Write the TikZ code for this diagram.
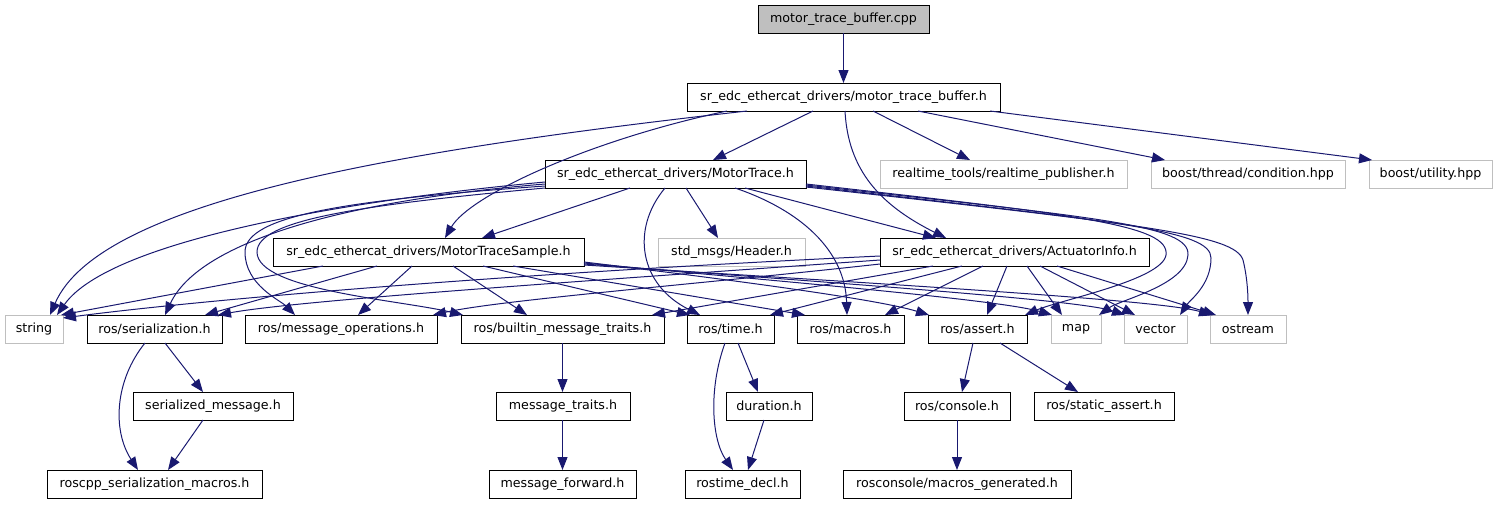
\documentclass[tikz,border=0pt]{standalone}
\usepackage{fontspec}
\newfontfamily\dv{DejaVu Sans}
\usetikzlibrary{arrows.meta}
\definecolor{edgec}{HTML}{191970}
\definecolor{lightg}{HTML}{BFBFBF}
\definecolor{rootg}{HTML}{BFBFBF}
\tikzset{
  box/.style={draw=black, line width=1pt, minimum height=28pt, inner sep=0pt, outer sep=0pt,
    font={\dv\fontsize{12.65}{14}\selectfont}},
  gbox/.style={box, draw=lightg},
  rootbox/.style={box, fill=rootg},
  edge/.style={draw=edgec, line width=1pt, -{Triangle[length=13pt,width=10pt]}},
}
\begin{document}
\begin{tikzpicture}[x=1pt,y=-1pt]
\useasboundingbox (0,0) rectangle (1497,504);
% row 0
\node[rootbox, minimum width=171pt] (cpp) at (843.5,19) {motor\_trace\_buffer.cpp};
% row 1
\node[box, minimum width=313pt] (mtb) at (843.5,97) {sr\_edc\_ethercat\_drivers/motor\_trace\_buffer.h};
% row 2
\node[box, minimum width=261pt] (mt) at (675.5,174) {sr\_edc\_ethercat\_drivers/MotorTrace.h};
\node[gbox, minimum width=247pt] (rt) at (1003.5,174) {realtime\_tools/realtime\_publisher.h};
\node[gbox, minimum width=194pt] (bt) at (1248,174) {boost/thread/condition.hpp};
\node[gbox, minimum width=123pt] (bu) at (1430.5,174) {boost/utility.hpp};
% row 3
\node[box, minimum width=311pt] (mts) at (428.5,252) {sr\_edc\_ethercat\_drivers/MotorTraceSample.h};
\node[gbox, minimum width=147pt] (hdr) at (731.5,252) {std\_msgs/Header.h};
\node[box, minimum width=269pt] (ai) at (1014.5,252) {sr\_edc\_ethercat\_drivers/ActuatorInfo.h};
% row 4
\node[gbox, minimum width=58pt] (str) at (34,329) {string};
\node[box, minimum width=135pt] (ser) at (154.5,329) {ros/serialization.h};
\node[box, minimum width=192pt] (mo) at (341,329) {ros/message\_operations.h};
\node[box, minimum width=203pt] (bmt) at (562.5,329) {ros/builtin\_message\_traits.h};
\node[box, minimum width=87pt] (tim) at (730.5,329) {ros/time.h};
\node[box, minimum width=107pt] (mac) at (850.5,329) {ros/macros.h};
\node[box, minimum width=99pt] (ass) at (977.5,329) {ros/assert.h};
\node[gbox, minimum width=50pt] (map) at (1076,329) {map};
\node[gbox, minimum width=63pt] (vec) at (1155.5,329) {vector};
\node[gbox, minimum width=76pt] (ost) at (1248,329) {ostream};
% row 5
\node[box, minimum width=160pt] (sm) at (213,406) {serialized\_message.h};
\node[box, minimum width=134pt] (mtr) at (563,406) {message\_traits.h};
\node[box, minimum width=86pt] (dur) at (769,406) {duration.h};
\node[box, minimum width=106pt] (con) at (957,406) {ros/console.h};
\node[box, minimum width=140pt] (sa) at (1104,406) {ros/static\_assert.h};
% row 6
\node[box, minimum width=215pt] (rsm) at (154.5,484) {roscpp\_serialization\_macros.h};
\node[box, minimum width=147pt] (mf) at (562.5,484) {message\_forward.h};
\node[box, minimum width=115pt] (rd) at (742.5,484) {rostime\_decl.h};
\node[box, minimum width=228pt] (mg) at (957,484) {rosconsole/macros\_generated.h};

% ---- edges from cpp
\draw[edge] (cpp) -- (mtb);
% ---- edges from motor_trace_buffer.h
\draw[edge] (mtb.south -| 747,0) .. controls (400,150) and (100,200) .. (str.north -| 50,0);
\draw[edge] (mtb.south -| 727,0) .. controls (590,140) and (470,195) .. (mts.north -| 445,0);
\draw[edge] (mtb.south -| 813,0) -- (mt.north -| 713,0);
\draw[edge] (mtb.south -| 845,0) .. controls (848,170) and (880,205) .. (ai.north -| 946,0);
\draw[edge] (mtb.south -| 873,0) -- (rt.north -| 970,0);
\draw[edge] (mtb.south -| 918,0) -- (bt.north -| 1165,0);
\draw[edge] (mtb.south -| 990,0) -- (bu.north -| 1372,0);
% ---- edges from MotorTrace.h
\draw[edge] (mt.west |- 0,182) .. controls (350,200) and (110,240) .. (str.north -| 57,0);
\draw[edge] (mt.west |- 0,184) .. controls (350,200) and (200,240) .. (ser.north -| 165,0);
\draw[edge] (mt.west |- 0,186) .. controls (350,200) and (245,215) .. (245,252)
   .. controls (245,285) and (280,300) .. (mo.north -| 295,0);
\draw[edge] (mt.west |- 0,188) .. controls (360,205) and (257,220) .. (257,252)
   .. controls (257,290) and (400,300) .. (bmt.north -| 463,0);
\draw[edge] (mt.south -| 630,0) -- (mts.north -| 482,0);
\draw[edge] (mt.south -| 665,0) .. controls (630,230) and (640,285) .. (tim.north -| 700,0);
\draw[edge] (mt.south -| 686,0) -- (hdr.north -| 718,0);
\draw[edge] (mt.south -| 735,0) .. controls (800,210) and (845,250) .. (mac.north -| 847,0);
\draw[edge] (mt.south -| 745,0) -- (ai.north -| 936,0);
\draw[edge] (mt.east |- 0,184) .. controls (1080,215) and (1170,225) .. (1166,255)
   .. controls (1162,280) and (1060,300) .. (ass.north -| 1025,0);
\draw[edge] (mt.east |- 0,185) .. controls (1100,218) and (1190,225) .. (1188,255)
   .. controls (1186,285) and (1120,300) .. (map.north -| 1099,0);
\draw[edge] (mt.east |- 0,186) .. controls (1120,222) and (1211,230) .. (1211,258)
   .. controls (1211,285) and (1190,300) .. (vec.north -| 1180,0);
\draw[edge] (mt.east |- 0,187) .. controls (1150,225) and (1235,235) .. (1243,260)
   .. controls (1248,280) and (1248,300) .. (ost.north -| 1248,0);
% ---- edges from MotorTraceSample.h
\draw[edge] (mts.south -| 323,0) -- (str.north -| 61,0);
\draw[edge] (mts.south -| 377,0) -- (ser.north -| 205,0);
\draw[edge] (mts.south -| 412,0) -- (mo.north -| 358,0);
\draw[edge] (mts.south -| 453,0) -- (bmt.north -| 527,0);
\draw[edge] (mts.south -| 483,0) -- (tim.north -| 690,0);
\draw[edge] (mts.south -| 513,0) -- (mac.north -| 805,0);
\draw[edge] (mts.east |- 0,262) .. controls (750,282) and (880,300) .. (ass.north -| 929,0);
\draw[edge] (mts.east |- 0,263) .. controls (800,283) and (1000,300) .. (map.north -| 1052,0);
\draw[edge] (mts.east |- 0,264) .. controls (850,284) and (1080,300) .. (vec.north -| 1125,0);
\draw[edge] (mts.east |- 0,265) .. controls (900,285) and (1160,300) .. (ost.north -| 1212,0);
% ---- edges from ActuatorInfo.h
\draw[edge] (ai.west |- 0,256) .. controls (500,274) and (200,300) .. (str.east |- 0,318);
\draw[edge] (ai.west |- 0,260) .. controls (600,280) and (300,300) .. (ser.north -| 218,0);
\draw[edge] (ai.west |- 0,264) .. controls (700,284) and (500,300) .. (mo.north -| 433,0);
\draw[edge] (ai.south -| 933,0) -- (bmt.north -| 652,0);
\draw[edge] (ai.south -| 962,0) -- (tim.north -| 770,0);
\draw[edge] (ai.south -| 983,0) -- (mac.north -| 885,0);
\draw[edge] (ai.south -| 1007,0) -- (ass.north -| 987,0);
\draw[edge] (ai.south -| 1027,0) -- (map.north -| 1062,0);
\draw[edge] (ai.south -| 1040,0) -- (vec.north -| 1135,0);
\draw[edge] (ai.south -| 1057,0) -- (ost.north -| 1216,0);
% ---- lower edges
\draw[edge] (ser.south -| 165,0) -- (sm.north -| 203,0);
\draw[edge] (ser.south -| 145,0) .. controls (115,380) and (112,430) .. (rsm.north -| 138,0);
\draw[edge] (sm.south -| 203,0) -- (rsm.north -| 168,0);
\draw[edge] (bmt.south -| 562.5,0) -- (mtr.north -| 562.5,0);
\draw[edge] (mtr.south -| 562.5,0) -- (mf.north -| 562.5,0);
\draw[edge] (tim.south -| 738,0) -- (dur.north -| 758,0);
\draw[edge] (tim.south -| 725,0) .. controls (708,390) and (712,440) .. (rd.north -| 733,0);
\draw[edge] (dur.south -| 764,0) -- (rd.north -| 748,0);
\draw[edge] (ass.south -| 973,0) -- (con.north -| 962,0);
\draw[edge] (ass.south -| 1000,0) -- (sa.north -| 1078,0);
\draw[edge] (con.south -| 957,0) -- (mg.north -| 957,0);
\end{tikzpicture}
\end{document}
